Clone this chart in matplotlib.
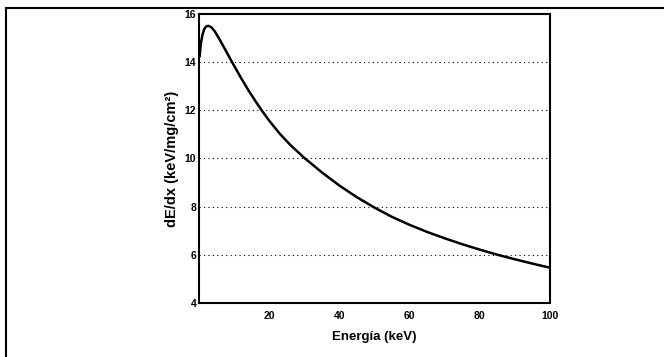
import matplotlib.pyplot as plt
from matplotlib.lines import Line2D

# curve
energy = [0.2, 0.5, 1.0, 1.5, 2.0, 2.66, 3.5, 4.5, 6, 8, 9.5, 12, 14, 16, 18,
          20, 23, 26, 30, 35, 40, 45, 50, 55, 60, 65, 70, 75, 80, 85, 90, 95, 100]
dedx = [14.25, 14.75, 15.15, 15.37, 15.48, 15.51, 15.45, 15.28, 14.91, 14.38,
        13.98, 13.34, 12.85, 12.40, 11.97, 11.57, 11.03, 10.565, 10.025, 9.425,
        8.875, 8.39, 7.96, 7.575, 7.245, 6.95, 6.685, 6.44, 6.215, 6.005,
        5.815, 5.635, 5.465]
xticks = [20, 40, 60, 80, 100]
yticks = [4, 6, 8, 10, 12, 14, 16]
grid_levels = [6, 8, 10, 12, 14]

plt.rcParams['font.family'] = ['Liberation Sans', 'DejaVu Sans']
plt.rcParams['font.weight'] = 'bold'

fig = plt.figure(figsize=(6.64, 3.57), dpi=100)
ax = fig.add_axes([0.2997, 0.1513, 0.5286, 0.8095])

ax.plot(energy, dedx, color='black', linewidth=1.8)
for g in grid_levels:
    ax.axhline(g, color='black', linestyle=(0, (1, 3)), linewidth=0.8)

ax.set_xlim(0, 100)
ax.set_ylim(4, 16)
ax.set_xticks(xticks)
ax.set_yticks(yticks)
ax.tick_params(length=0, labelsize=7.5)
ax.tick_params(axis='x', pad=6)
ax.tick_params(axis='y', pad=2)
for lab in ax.get_xticklabels() + ax.get_yticklabels():
    lab.set_fontweight('bold')
for s in ax.spines.values():
    s.set_linewidth(1.5)

ax.set_xlabel('Energía (keV)', fontsize=9.5, fontweight='bold', labelpad=7)
ax.set_ylabel('dE/dx (keV/mg/cm²)', fontsize=10.5, fontweight='bold', labelpad=4)

# frame of the scanned page
fig.add_artist(Line2D([0.009, 1.0], [0.978, 0.978], color='black', linewidth=1.5))
fig.add_artist(Line2D([0.009, 0.009], [0.0, 0.978], color='black', linewidth=1.5))

fig.savefig('out.png', dpi=100)
